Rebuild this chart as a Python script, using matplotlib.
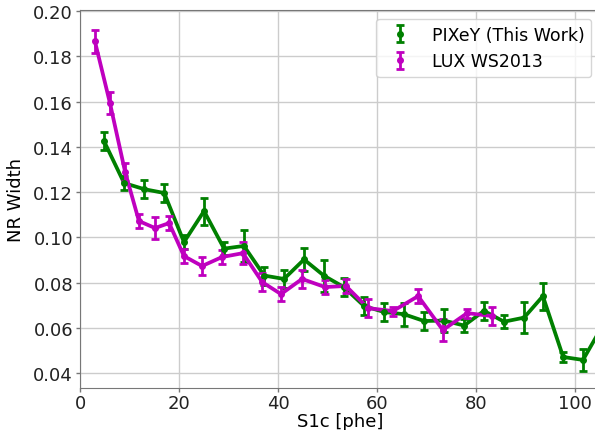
import matplotlib
matplotlib.use('Agg')
import matplotlib.pyplot as plt
import numpy as np

# PIXeY (This Work)
pix_x = [4.85, 8.9, 12.95, 17.0, 21.0, 25.05, 29.1, 33.1, 37.2, 41.2, 45.25, 49.3, 53.3,
         57.4, 61.4, 65.45, 69.5, 73.5, 77.6, 81.6, 85.65, 89.7, 93.5, 97.6, 101.6, 105.6]
pix_y = [0.1425, 0.124, 0.1213, 0.1196, 0.0979, 0.1116, 0.0950, 0.0962, 0.0831, 0.0816,
         0.0902, 0.0830, 0.0780, 0.0696, 0.0670, 0.0660, 0.0630, 0.0632, 0.0610, 0.0675,
         0.0627, 0.0645, 0.0740, 0.0471, 0.0458, 0.0611]
pix_err = [0.004, 0.003, 0.004, 0.004, 0.003, 0.006, 0.003, 0.007, 0.004, 0.004,
           0.005, 0.007, 0.004, 0.004, 0.004, 0.005, 0.004, 0.005, 0.003, 0.004,
           0.003, 0.007, 0.006, 0.002, 0.005, 0.005]

# LUX WS2013
lux_x = [3.0, 6.05, 9.1, 11.9, 15.15, 18.0, 21.0, 24.65, 28.7, 32.9, 36.8, 40.6, 44.85,
         49.5, 53.7, 58.2, 63.2, 68.3, 73.3, 78.2, 83.2]
lux_y = [0.1867, 0.1593, 0.1290, 0.1072, 0.1041, 0.1063, 0.0917, 0.0873, 0.0913, 0.0930,
         0.0802, 0.0749, 0.0816, 0.0780, 0.0785, 0.0687, 0.0674, 0.0740, 0.0590, 0.0665,
         0.0652]
lux_err = [0.005, 0.005, 0.004, 0.003, 0.005, 0.003, 0.003, 0.004, 0.003, 0.005,
           0.004, 0.003, 0.004, 0.003, 0.003, 0.004, 0.002, 0.003, 0.005, 0.002,
           0.004]

fig = plt.figure(figsize=(5.95, 4.31), dpi=100)
# axes runs a little past the right edge of the figure, like the original
ax = fig.add_axes([0.1345, 0.0975, 0.874, 0.877])

# connecting lines drawn separately so the legend shows only the error bar glyph
ax.plot(pix_x, pix_y, color='green', linewidth=2.7)
ax.errorbar(pix_x, pix_y, yerr=pix_err, color='green', marker='o', markersize=4,
            linestyle='none', elinewidth=2, capsize=3, capthick=2, label='PIXeY (This Work)')
ax.plot(lux_x, lux_y, color='m', linewidth=2.7)
ax.errorbar(lux_x, lux_y, yerr=lux_err, color='m', marker='o', markersize=4,
            linestyle='none', elinewidth=2, capsize=3, capthick=2, label='LUX WS2013')

ax.set_xlim(0, 105.05)
ax.set_ylim(0.0334, 0.2005)
ax.set_xticks([0, 20, 40, 60, 80, 100])
ax.set_yticks(np.arange(0.04, 0.201, 0.02))
ax.set_yticklabels(['%.2f' % v for v in np.arange(0.04, 0.201, 0.02)])
ax.grid(True, color='#cccccc', linewidth=1)
ax.set_axisbelow(True)
for s in ax.spines.values():
    s.set_color('#777777')
ax.tick_params(labelsize=13, length=3, width=1, color='#777777', labelcolor='#222222', pad=2)
ax.tick_params(axis='x', pad=1)
ax.set_xlabel('S1c [phe]', fontsize=13, labelpad=0)
ax.set_ylabel('NR Width', fontsize=13, labelpad=6)
ax.legend(loc='upper right', fontsize=12.5, handlelength=2.0)

fig.savefig('out.png', dpi=100)
